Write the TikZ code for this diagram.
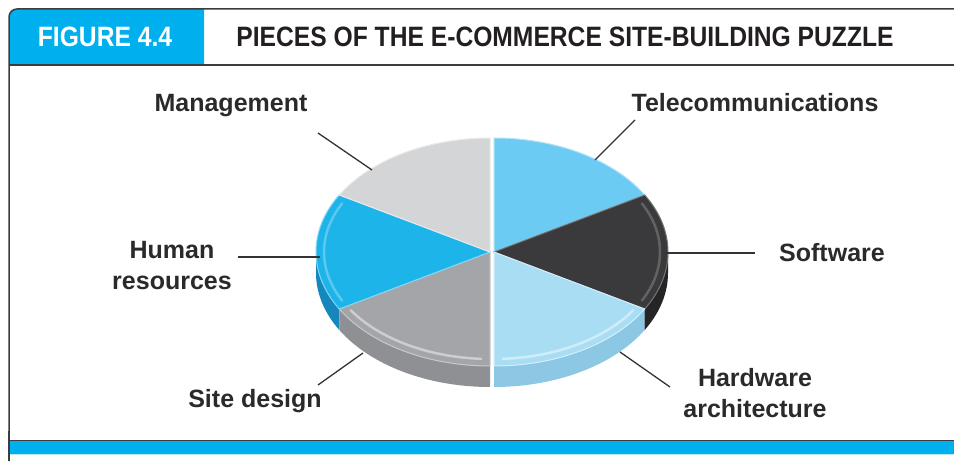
\documentclass[tikz,border=0pt]{standalone}
\usepackage{fontspec}
\setmainfont{Liberation Sans}
\newfontfamily\headfont[FakeStretch=0.88]{Liberation Sans}
\usetikzlibrary{calc}
\definecolor{hdrblue}{HTML}{00B0EE}
\definecolor{framegray}{HTML}{3C3C3E}
\definecolor{titlegray}{HTML}{231F20}
\definecolor{labelgray}{HTML}{2A2A2A}
\definecolor{linegray}{HTML}{333333}
\definecolor{paleline}{HTML}{BDE8F8}
\definecolor{tel}{HTML}{6CCBF2}
\definecolor{soft}{HTML}{3A3A3C}
\definecolor{softside}{HTML}{252527}
\definecolor{hw}{HTML}{A9DDF4}
\definecolor{hwside}{HTML}{8CC8E4}
\definecolor{site}{HTML}{A3A5A8}
\definecolor{siteside}{HTML}{8E9093}
\definecolor{hr}{HTML}{1DB4EA}
\definecolor{hrside}{HTML}{1488BC}
\definecolor{mgmt}{HTML}{D4D5D7}
\newcommand\pieSide[4]{%
  \path[#4] ($(#1)+(#2:174 and 114)$) arc[start angle=#2,end angle=#3,x radius=174,y radius=114]
    -- ++(0,-21) arc[start angle=#3,end angle=#2,x radius=174,y radius=114] -- cycle;}
\newcommand\pieTop[4]{%
  \path[#4] (#1) -- ($(#1)+(#2:174 and 114)$) arc[start angle=#2,end angle=#3,x radius=174,y radius=114] -- cycle;}
\newcommand\pieRim[4]{%
  \path[#4] ($(#1)+(#2:166 and 107)$) arc[start angle=#2,end angle=#3,x radius=166,y radius=107];}
\begin{document}
\begin{tikzpicture}[x=1pt,y=1pt,
  lbl/.style={font=\fontsize{25}{31}\selectfont\bfseries, text=labelgray, inner sep=0pt, align=center},
  headtxt/.style={font=\headfont\bfseries\fontsize{28}{32}\selectfont, inner sep=0pt},
  leader/.style={draw=linegray, line width=1.3pt},
  frameline/.style={draw=framegray, line width=1.5pt},
  rim/.style={line width=2.5pt, line cap=round, opacity=0.45}]
\useasboundingbox (0,0) rectangle (954,461);
\fill[white] (0,0) rectangle (954,461);

% header
\fill[hdrblue] (9,396) -- (9,444) arc[start angle=180,end angle=90,radius=8] -- (204,452) -- (204,396) -- cycle;
\draw[frameline] (9,0) -- (9,444) arc[start angle=180,end angle=90,radius=8] -- (955,452);
\draw[frameline] (9,396) -- (955,396);
\node[headtxt, text=white, anchor=base] (fig) at (105,414) {FIGURE 4.4};
\node[headtxt, text=titlegray, anchor=base] (title) at (565,414) {PIECES OF THE E-COMMERCE SITE-BUILDING PUZZLE};

% bottom bar
\fill[hdrblue] (9,7) rectangle (955,20);
\draw[framegray, line width=1.2pt] (9,20.6) -- (955,20.6);
\draw[paleline, line width=1pt] (9,6.5) -- (955,6.5);
\draw[frameline] (9,0) -- (9,30);

% pie centres
\coordinate (CL) at (490,209);
\coordinate (CR) at (494,209);

% side faces
\pieSide{CL}{180}{210}{fill=hrside}
\pieSide{CL}{210}{270}{fill=siteside}
\pieSide{CR}{270}{330}{fill=hwside}
\pieSide{CR}{330}{360}{fill=softside}

% top faces
\pieTop{CR}{30}{90}{fill=tel, draw=tel!55!white, line width=1pt}
\pieTop{CR}{-30}{30}{fill=soft, draw=soft!70!white, line width=1pt}
\pieTop{CR}{-90}{-30}{fill=hw, draw=hw!50!white, line width=1pt}
\pieTop{CL}{210}{270}{fill=site, draw=site!60!white, line width=1pt}
\pieTop{CL}{150}{210}{fill=hr, draw=hr!55!white, line width=1pt}
\pieTop{CL}{90}{150}{fill=mgmt, draw=mgmt!50!white, line width=1pt}

% bevel rims
\pieRim{CR}{-27}{27}{rim, draw=soft!55!white}
\pieRim{CR}{-87}{-33}{rim, draw=white}
\pieRim{CL}{213}{267}{rim, draw=white}
\pieRim{CL}{153}{207}{rim, draw=hr!40!white}

% labels
\node[lbl, anchor=base] (mg) at (231,349) {Management};
\node[lbl, anchor=base] (tc) at (755,349) {Telecommunications};
\node[lbl, anchor=center] (hres) at (172,195) {Human\\resources};
\node[lbl, anchor=base] (sw) at (832,199) {Software};
\node[lbl, anchor=center] (hwa) at (755,68) {Hardware\\architecture};
\node[lbl, anchor=base] (sd) at (255,53) {Site design};

% leader ends
\coordinate (mgA) at (318,328);  \coordinate (mgB) at (372,291);
\coordinate (tcA) at (635,341);  \coordinate (tcB) at (595,301);
\coordinate (hrA) at (238,204);  \coordinate (hrB) at (320,204);
\coordinate (sdA) at (318,76);   \coordinate (sdB) at (363,108);
\coordinate (swA) at (755,208);  \coordinate (swB) at (665,208);
\coordinate (hwA) at (670,74);   \coordinate (hwB) at (620,109);

\draw[leader] (mgA) -- (mgB);
\draw[leader] (tcA) -- (tcB);
\draw[leader] (hrA) -- (hrB);
\draw[leader] (sdA) -- (sdB);
\draw[leader] (swA) -- (swB);
\draw[leader] (hwA) -- (hwB);
\end{tikzpicture}
\end{document}
